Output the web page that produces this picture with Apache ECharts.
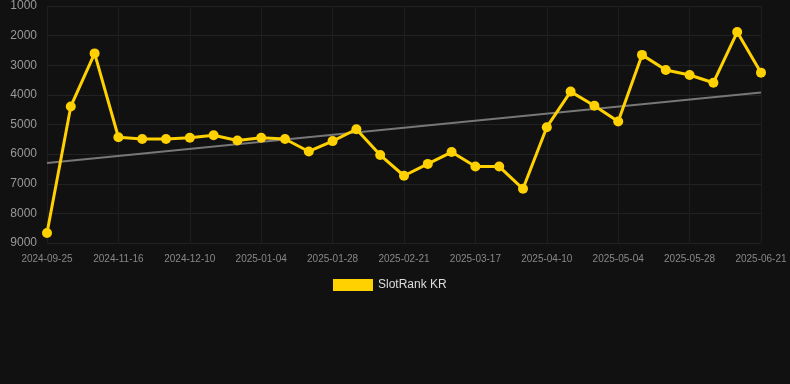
<!DOCTYPE html>
<html>
<head>
<meta charset="utf-8">
<script src="https://cdn.jsdelivr.net/npm/echarts@6.0.0/dist/echarts.min.js"></script>
<style>
  html, body { margin: 0; padding: 0; background: #111111; }
  #chart { width: 790px; height: 384px; }
</style>
</head>
<body>
<div id="chart"></div>
<script>
// dates of each rank point (only every 3rd one is labelled on the axis)
var dates = [
  '2024-09-25', '2024-10-12', '2024-10-29', '2024-11-16', '2024-11-24', '2024-12-02',
  '2024-12-10', '2024-12-18', '2024-12-27', '2025-01-04', '2025-01-12', '2025-01-20',
  '2025-01-28', '2025-02-05', '2025-02-13', '2025-02-21', '2025-03-01', '2025-03-09',
  '2025-03-17', '2025-03-25', '2025-04-02', '2025-04-10', '2025-04-18', '2025-04-26',
  '2025-05-04', '2025-05-12', '2025-05-20', '2025-05-28', '2025-06-05', '2025-06-13',
  '2025-06-21'
];
var rankKR = [
  8660, 4390, 2600, 5430, 5490, 5490, 5450, 5360, 5540, 5450, 5490, 5910,
  5560, 5160, 6030, 6730, 6330, 5930, 6420, 6420, 7170, 5090, 3890, 4370,
  4900, 2650, 3160, 3330, 3590, 1880, 3250
];
// trend line, read at first and last point
var trendStart = 6300;
var trendEnd = 3920;

var chart = echarts.init(document.getElementById('chart'));

var trendData = [[0, trendStart], [dates.length - 1, trendEnd]];

var option = {
  backgroundColor: '#111111',
  animation: false,
  grid: { left: 47, right: 29, top: 6, bottom: 141 },
  legend: {
    data: ['SlotRank KR'],
    top: 279,
    left: 333,
    padding: 0,
    icon: 'rect',
    itemWidth: 40,
    itemHeight: 12,
    itemGap: 5,
    textStyle: { color: '#dddddd', fontSize: 12, fontFamily: 'Liberation Sans, Arial, sans-serif' }
  },
  xAxis: {
    type: 'category',
    data: dates,
    boundaryGap: false,
    axisLine: { show: false },
    axisTick: { show: false },
    axisLabel: {
      interval: 2,
      color: '#888888',
      fontSize: 10,
      margin: 11,
      fontFamily: 'Liberation Sans, Arial, sans-serif'
    },
    splitLine: { show: true, interval: 2, lineStyle: { color: '#1e1e1e', width: 1 } }
  },
  yAxis: {
    type: 'value',
    inverse: true,
    min: 1000,
    max: 9000,
    interval: 1000,
    axisLine: { show: false },
    axisTick: { show: false },
    axisLabel: {
      color: '#999999',
      fontSize: 12,
      margin: 10,
      formatter: function (v) { return String(v); },
      fontFamily: 'Liberation Sans, Arial, sans-serif'
    },
    splitLine: { lineStyle: { color: '#222222', width: 1 } }
  },
  series: [
    {
      name: 'SlotRank KR',
      type: 'line',
      data: rankKR,
      symbol: 'circle',
      symbolSize: 10,
      z: 3,
      lineStyle: { color: '#ffd100', width: 3 },
      itemStyle: { color: '#ffd100' }
    },
    {
      name: 'Trend',
      type: 'line',
      data: trendData,
      symbol: 'none',
      z: 2,
      lineStyle: { color: '#777777', width: 2 },
      itemStyle: { color: '#777777' }
    }
  ]
};

chart.setOption(option);
</script>
</body>
</html>
